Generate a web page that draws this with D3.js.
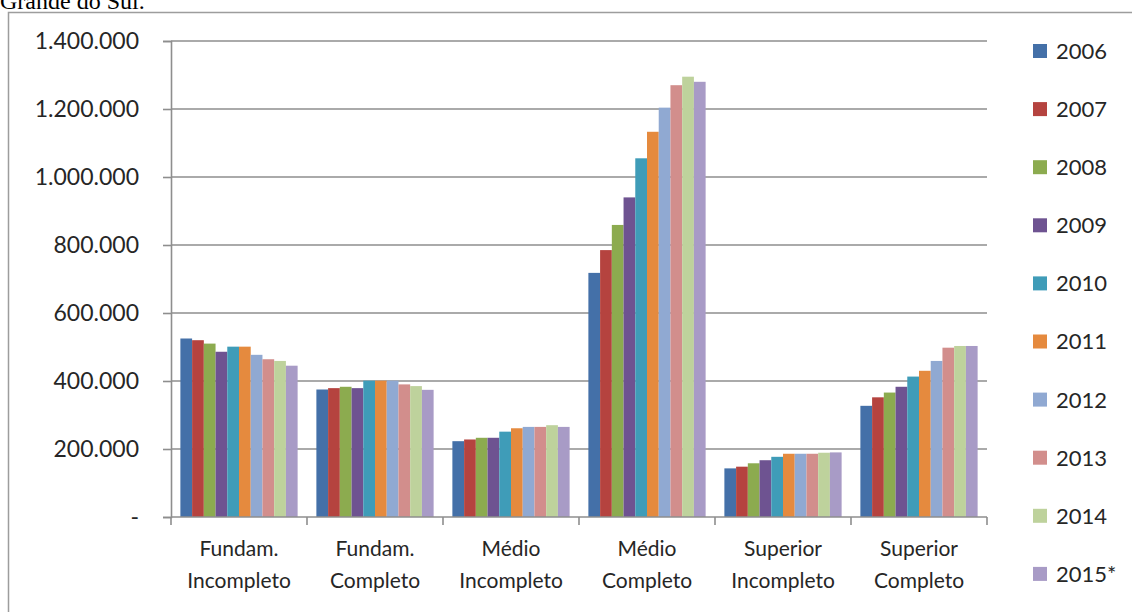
<!DOCTYPE html>
<html>
<head>
<meta charset="utf-8">
<script src="https://cdn.jsdelivr.net/npm/d3@7"></script>
<style>
  html, body { margin: 0; padding: 0; background: #fff; }
  svg { display: block; }
</style>
</head>
<body>
<svg id="chart" width="1132" height="612"></svg>
<script>
// Education levels (x categories), two text lines each
const categories = [
  "Fundam. Incompleto", "Fundam. Completo", "Médio Incompleto",
  "Médio Completo", "Superior Incompleto", "Superior Completo"
];
const categoryLines = [
  ["Fundam.", "Incompleto"], ["Fundam.", "Completo"], ["Médio", "Incompleto"],
  ["Médio", "Completo"], ["Superior", "Incompleto"], ["Superior", "Completo"]
];

// Years (series)
const years = ["2006", "2007", "2008", "2009", "2010", "2011", "2012", "2013", "2014", "2015*"];

// One array per education level, values by year
const fundIncompleto = [525000, 520000, 510000, 486000, 501000, 501000, 477000, 464000, 459000, 445000];
const fundCompleto   = [375000, 379000, 383000, 379000, 401000, 401000, 401000, 390000, 385000, 374000];
const medioIncompleto = [223000, 228000, 233000, 233000, 251000, 261000, 265000, 265000, 270000, 265000];
const medioCompleto  = [718000, 785000, 859000, 940000, 1055000, 1133000, 1204000, 1270000, 1295000, 1280000];
const supIncompleto  = [143000, 148000, 158000, 167000, 177000, 186000, 186000, 186000, 189000, 190000];
const supCompleto    = [327000, 352000, 366000, 383000, 413000, 430000, 459000, 498000, 503000, 503000];

const seriesByCategory = [fundIncompleto, fundCompleto, medioIncompleto, medioCompleto, supIncompleto, supCompleto];

// Y axis ticks
const yTicks = [0, 200000, 400000, 600000, 800000, 1000000, 1200000, 1400000];

const colors = ["#4470a8", "#b5433f", "#8cab4f", "#6e5391", "#3f9cb8", "#e58a3e",
                "#90a9d2", "#d28e8c", "#bed29c", "#a89bc6"];

const svg = d3.select("#chart");
const plotLeft = 171, plotRight = 987, plotTop = 41, plotBottom = 517;
const labelFont = "Lato, 'Open Sans', sans-serif";
const textColor = "#262626";

const locale = d3.formatLocale({ decimal: ",", thousands: ".", grouping: [3], currency: ["R$", ""] });
const fmt = locale.format(",d");

const y = d3.scaleLinear().domain([0, 1400000]).range([plotBottom, plotTop]);
const x0 = d3.scaleBand().domain(categories).range([plotLeft, plotRight]).paddingInner(0).paddingOuter(0);
const x1 = d3.scaleBand().domain(years).range([0, x0.bandwidth()]).paddingInner(0).paddingOuter(0.8);
const color = d3.scaleOrdinal().domain(years).range(colors);

// Heading line above the frame
svg.append("text")
  .attr("x", 0).attr("y", 9)
  .attr("font-family", "'Liberation Serif', 'Times New Roman', serif")
  .attr("font-size", 24)
  .attr("fill", "#000")
  .text("Grande do Sul.");

// Chart frame
svg.append("rect")
  .attr("x", 8.5).attr("y", 12.5)
  .attr("width", 1140).attr("height", 620)
  .attr("fill", "none").attr("stroke", "#9d9d9d").attr("stroke-width", 1.5);

// Gridlines
svg.append("g")
  .selectAll("line")
  .data(yTicks.filter(d => d > 0))
  .join("line")
  .attr("x1", plotLeft).attr("x2", plotRight)
  .attr("y1", d => y(d)).attr("y2", d => y(d))
  .attr("stroke", "#8e8e8e").attr("stroke-width", 1.6);

// Bars
const groups = svg.append("g")
  .selectAll("g")
  .data(categories)
  .join("g")
  .attr("transform", d => `translate(${x0(d)},0)`);

groups.selectAll("rect")
  .data((c, i) => years.map((yr, j) => ({ year: yr, value: seriesByCategory[i][j] })))
  .join("rect")
  .attr("x", d => x1(d.year))
  .attr("width", x1.bandwidth())
  .attr("y", d => y(d.value))
  .attr("height", d => y(0) - y(d.value))
  .attr("fill", d => color(d.year));

// Y axis
const yAxis = d3.axisLeft(y)
  .tickValues(yTicks)
  .tickSize(8)
  .tickPadding(24)
  .tickFormat(d => d === 0 ? "-" : fmt(d));

const gy = svg.append("g").attr("transform", `translate(${plotLeft},0)`).call(yAxis);
gy.select(".domain").attr("stroke", "#8e8e8e").attr("stroke-width", 1.6);
gy.selectAll(".tick line").attr("stroke", "#8e8e8e").attr("stroke-width", 1.6);
gy.selectAll(".tick text")
  .attr("font-family", labelFont)
  .attr("font-size", 23)
  .attr("fill", textColor);

// X axis line and category boundary ticks
svg.append("line")
  .attr("x1", plotLeft).attr("x2", plotRight)
  .attr("y1", plotBottom).attr("y2", plotBottom)
  .attr("stroke", "#8e8e8e").attr("stroke-width", 1.6);

const boundaries = categories.map(c => x0(c)).concat([x0(categories[categories.length - 1]) + x0.bandwidth()]);
svg.append("g")
  .selectAll("line")
  .data(boundaries)
  .join("line")
  .attr("x1", d => d).attr("x2", d => d)
  .attr("y1", plotBottom).attr("y2", plotBottom + 8)
  .attr("stroke", "#8e8e8e").attr("stroke-width", 1.6);

// Category labels
const labels = svg.append("g")
  .selectAll("text")
  .data(categories)
  .join("text")
  .attr("text-anchor", "middle")
  .attr("font-family", labelFont)
  .attr("font-size", 21)
  .attr("fill", textColor);

labels.each(function (c, i) {
  const t = d3.select(this);
  const cx = x0(c) + x0.bandwidth() / 2;
  categoryLines[i].forEach((line, k) => {
    t.append("tspan").attr("x", cx).attr("y", 556 + k * 32).text(line);
  });
});

// Legend
const legend = svg.append("g")
  .selectAll("g")
  .data(years)
  .join("g")
  .attr("transform", (d, i) => `translate(1033,${51 + i * 58.1})`);

legend.append("rect")
  .attr("x", 0).attr("y", -7)
  .attr("width", 14).attr("height", 14)
  .attr("fill", d => color(d));

legend.append("text")
  .attr("x", 23).attr("y", 0)
  .attr("dy", "0.36em")
  .attr("font-family", labelFont)
  .attr("font-size", 22)
  .attr("fill", textColor)
  .text(d => d);
</script>
</body>
</html>
